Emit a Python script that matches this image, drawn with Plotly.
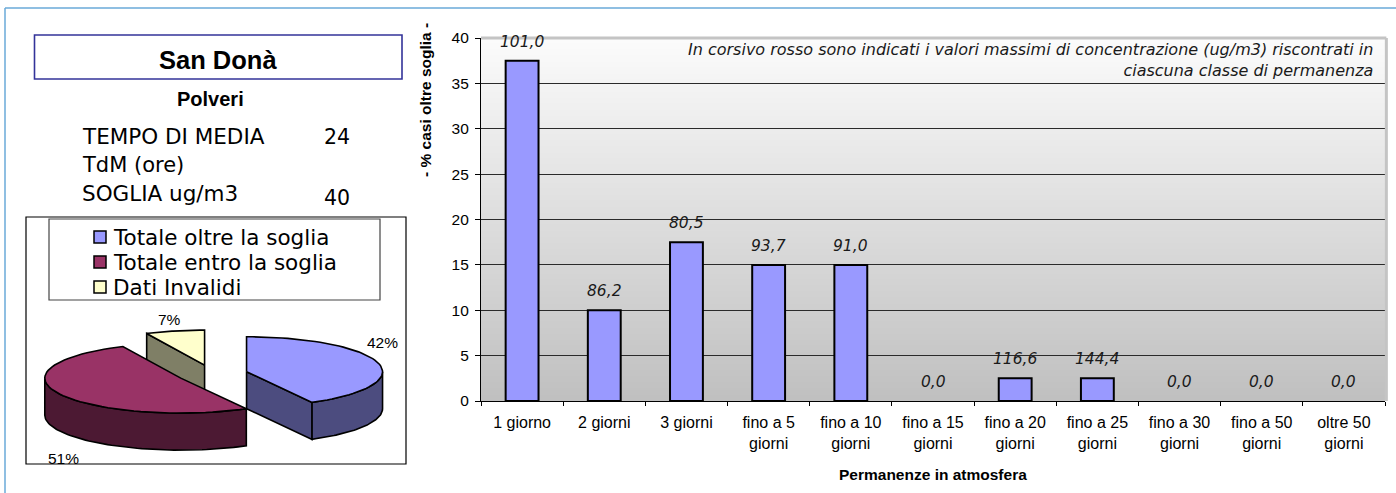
import math
import plotly.graph_objects as go

W, H = 1396, 493

# ---------------- data ----------------
categories = ["1 giorno", "2 giorni", "3 giorni", "fino a 5 giorni", "fino a 10 giorni",
              "fino a 15 giorni", "fino a 20 giorni", "fino a 25 giorni", "fino a 30 giorni",
              "fino a 50 giorni", "oltre 50 giorni"]
pct_over = [37.5, 10, 17.5, 15, 15, 0, 2.5, 2.5, 0, 0, 0]
max_conc = [101.0, 86.2, 80.5, 93.7, 91.0, 0.0, 116.6, 144.4, 0.0, 0.0, 0.0]

pie_labels = ["Totale oltre la soglia", "Totale entro la soglia", "Dati Invalidi"]
pie_values = [42, 51, 7]
pie_colors = ["#9999FF", "#993366", "#FFFFCC"]

station = "San Donà"
pollutant = "Polveri"
avg_time_label, avg_time_value = "TEMPO DI MEDIA", "24"
avg_unit_label = "TdM (ore)"
threshold_label, threshold_value = "SOGLIA ug/m3", "40"

note_text = ("In corsivo rosso sono indicati i valori massimi di concentrazione (ug/m3) riscontrati in"
             "<br>ciascuna classe di permanenza")

ARIAL = "Liberation Sans, Arial, sans-serif"
VERDANA = "DejaVu Sans, Verdana, sans-serif"


def px(x):
    return x / W


def py(y):
    return 1 - y / H


def wrap(label):
    words = label.split(" ")
    if len(words) > 2:
        return " ".join(words[:-1]) + "<br>" + words[-1]
    return label


def fmt_it(v):
    return f"{v:.1f}".replace(".", ",")


def darker(hex_color):
    h = hex_color.lstrip("#")
    r, g, b = (int(h[i:i + 2], 16) // 2 for i in (0, 2, 4))
    return f"#{r:02x}{g:02x}{b:02x}"


fig = go.Figure()


def text_at(x, y, txt, family, size, xanchor="center", yanchor="middle", **kw):
    fig.add_annotation(x=px(x), y=py(y), xref="paper", yref="paper", text=txt,
                       showarrow=False, xanchor=xanchor, yanchor=yanchor,
                       font=dict(family=family, size=size, color=kw.pop("color", "black")), **kw)


# ---------------- bar chart ----------------
fig.add_trace(go.Bar(
    x=categories, y=pct_over,
    marker=dict(color="#9999FF",
                line=dict(color="black", width=[2 if v > 0 else 0 for v in pct_over])),
    width=0.4, hoverinfo="x+y", showlegend=False,
))

for cat, val, mx in zip(categories, pct_over, max_conc):
    fig.add_annotation(x=cat, y=val, xref="x", yref="y", text=f"<i>{fmt_it(mx)}</i>",
                       showarrow=False, xanchor="center", yanchor="bottom", yshift=8,
                       font=dict(family=VERDANA, size=15.5, color="#1a1a1a"))

# ---------------- 3D exploded pie ----------------
PIE_CX, PIE_CY = 212.3, 374.0      # pie centre in panel pixels
RX, RY, DEPTH = 136.0, 35.0, 37.0  # ellipse radii and slab thickness
EXPLODE = 0.26

total = sum(pie_values)
slices = []
acc = 0.0
for lab, val, col in zip(pie_labels, pie_values, pie_colors):
    s = acc / total * 360.0
    acc += val
    e = acc / total * 360.0
    m = math.radians((s + e) / 2)
    cx = PIE_CX + EXPLODE * RX * math.sin(m)
    cy = PIE_CY - EXPLODE * RY * math.cos(m)
    slices.append(dict(label=lab, val=val, col=col, s=s, e=e, cx=cx, cy=cy))


def pt(sl, deg, dz=0.0):
    t = math.radians(deg)
    return sl["cx"] + RX * math.sin(t), sl["cy"] - RY * math.cos(t) + dz


def arc(sl, a0, a1, dz=0.0, n=60):
    return [pt(sl, a0 + (a1 - a0) * k / n, dz) for k in range(n + 1)]


def poly(points, fill):
    xs = [p[0] for p in points] + [points[0][0]]
    ys = [p[1] for p in points] + [points[0][1]]
    fig.add_trace(go.Scatter(x=xs, y=ys, xaxis="x2", yaxis="y2", mode="lines",
                             fill="toself", fillcolor=fill,
                             line=dict(color="black", width=1.6),
                             hoverinfo="skip", showlegend=False))


for sl in sorted(slices, key=lambda d: d["cy"]):
    side = darker(sl["col"])
    c_top = (sl["cx"], sl["cy"])
    c_bot = (sl["cx"], sl["cy"] + DEPTH)
    # radial cut faces turned towards the viewer
    for ang, normal in ((sl["s"], sl["s"] - 90), (sl["e"], sl["e"] + 90)):
        if math.cos(math.radians(normal)) < -1e-6:
            poly([c_top, pt(sl, ang), pt(sl, ang, DEPTH), c_bot], side)
    # curved outer wall (front half only)
    a0, a1 = max(sl["s"], 90), min(sl["e"], 270)
    if a1 > a0:
        poly(arc(sl, a0, a1) + arc(sl, a0, a1, DEPTH)[::-1], side)
    # top face
    poly([c_top] + arc(sl, sl["s"], sl["e"]), sl["col"])

# percentage labels around the pie
pie_label_pos = [(382, 342), (63, 458), (169, 319)]
for sl, (lx, ly) in zip(slices, pie_label_pos):
    text_at(lx, ly, f"{sl['val']}%", ARIAL, 15.5)

# legend of the pie
shapes = []
shapes.append(dict(type="rect", xref="paper", yref="paper", x0=px(26), x1=px(406),
                   y0=py(464), y1=py(217), line=dict(color="black", width=1.2)))
shapes.append(dict(type="rect", xref="paper", yref="paper", x0=px(49), x1=px(380),
                   y0=py(300), y1=py(219), line=dict(color="#444444", width=1.2)))
for i, (lab, col) in enumerate(zip(pie_labels, pie_colors)):
    yc = 237 + 25 * i
    shapes.append(dict(type="rect", xref="paper", yref="paper", x0=px(94), x1=px(106),
                       y0=py(yc + 6), y1=py(yc - 6), fillcolor=col,
                       line=dict(color="black", width=1.5)))
    text_at(111, yc, lab, VERDANA, 21.5, xanchor="left")

# ---------------- left text panel ----------------
shapes.append(dict(type="rect", xref="paper", yref="paper", x0=px(34.5), x1=px(402),
                   y0=py(79), y1=py(35), line=dict(color="#333399", width=1.6)))
text_at(218, 60, f"<b>{station}</b>", ARIAL, 25.5)
text_at(210, 99, f"<b>{pollutant}</b>", ARIAL, 20)
text_at(80, 137, avg_time_label, VERDANA, 21.5, xanchor="left")
text_at(322, 137, avg_time_value, VERDANA, 20.5, xanchor="left")
text_at(80, 165, avg_unit_label, VERDANA, 21, xanchor="left")
text_at(80, 193, threshold_label, VERDANA, 21.5, xanchor="left")
text_at(322, 198, threshold_value, VERDANA, 20.5, xanchor="left")

# outer frame (top and left)
shapes.append(dict(type="line", xref="paper", yref="paper", x0=px(5), x1=px(W),
                   y0=py(8), y1=py(8), line=dict(color="#6aaad8", width=1.5)))
shapes.append(dict(type="line", xref="paper", yref="paper", x0=px(5), x1=px(5),
                   y0=py(8), y1=0, line=dict(color="#6aaad8", width=1.5)))

# ---------------- plot area background gradient ----------------
N_BANDS = 60
top_rgb, bot_rgb = (251, 251, 251), (192, 192, 192)
for k in range(N_BANDS):
    f = (k + 0.5) / N_BANDS
    c = tuple(round(top_rgb[j] + (bot_rgb[j] - top_rgb[j]) * f) for j in range(3))
    shapes.append(dict(type="rect", xref="x domain", yref="y domain", x0=0, x1=1,
                       y0=1 - (k + 1) / N_BANDS, y1=1 - k / N_BANDS + 0.002,
                       fillcolor=f"rgb{c}", line=dict(width=0), layer="below"))
# gray border on top and right of plot area
shapes.append(dict(type="line", xref="x domain", yref="y domain", x0=0, x1=1.0015, y0=1, y1=1,
                   line=dict(color="#c4c4c4", width=3), layer="above"))
shapes.append(dict(type="line", xref="x domain", yref="y domain", x0=1.0015, x1=1.0015, y0=0, y1=1,
                   line=dict(color="#c4c4c4", width=3), layer="above"))

text_at(1375, 38, f"<i>{note_text}</i>", VERDANA, 16, xanchor="right", yanchor="top",
        align="right", color="#1a1a1a")

# axis titles
text_at(933, 474, "<b>Permanenze in atmosfera</b>", ARIAL, 15.5)
text_at(425, 100, "<b>- % casi oltre soglia -</b>", ARIAL, 15.5, textangle=-90)

fig.update_layout(
    width=W, height=H,
    margin=dict(l=0, r=0, t=0, b=0, autoexpand=False),
    paper_bgcolor="white", plot_bgcolor="rgba(0,0,0,0)",
    bargap=0.6,
    shapes=shapes,
    xaxis=dict(domain=[px(481), px(1385)], type="category", automargin=False,
               tickvals=categories, ticktext=[wrap(c) for c in categories],
               tickson="boundaries", ticks="outside", ticklen=4, tickcolor="black",
               ticklabelstandoff=7,
               showline=True, linecolor="black", linewidth=1.2, showgrid=False,
               tickfont=dict(family=ARIAL, size=16, color="black")),
    yaxis=dict(domain=[py(401), py(38)], range=[0, 40], dtick=5, automargin=False,
               showgrid=True, gridcolor="#2a2a2a", gridwidth=1,
               showline=True, linecolor="black", linewidth=1.2, zeroline=False,
               ticks="outside", ticklen=5, tickcolor="black", ticklabelstandoff=3,
               tickfont=dict(family=ARIAL, size=15.5, color="black")),
    xaxis2=dict(domain=[px(26), px(406)], range=[26, 406], visible=False, anchor="y2",
                automargin=False),
    yaxis2=dict(domain=[py(464), py(217)], range=[464, 217], visible=False, anchor="x2",
                automargin=False),
)

fig.write_html("out.html")
